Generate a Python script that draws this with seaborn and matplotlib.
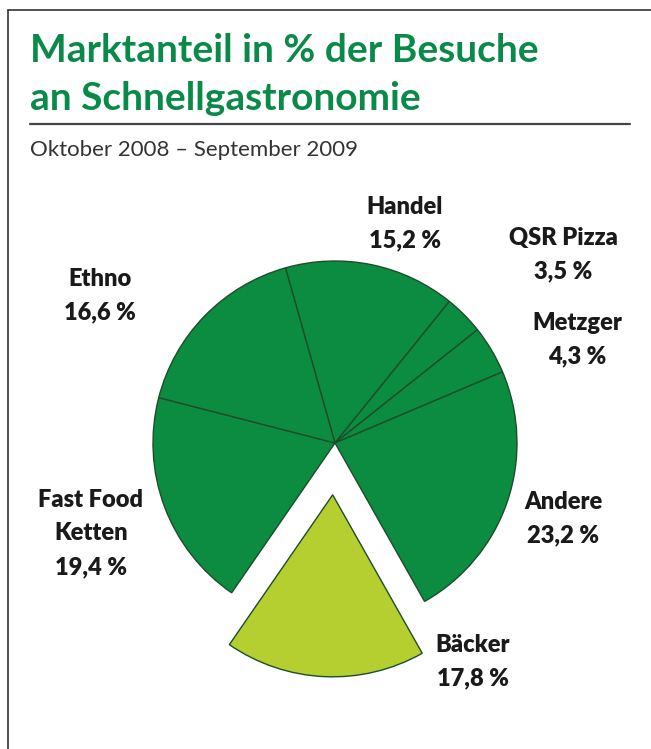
import matplotlib
matplotlib.use("Agg")
import matplotlib.pyplot as plt
import seaborn as sns
from matplotlib.lines import Line2D

# Data (clockwise from the Ethno/Handel boundary)
categories = ["Handel", "QSR Pizza", "Metzger", "Andere", "Bäcker", "Fast Food\nKetten", "Ethno"]
shares = [15.2, 3.5, 4.3, 23.2, 17.8, 19.4, 16.6]
highlight = "Bäcker"

W, H = 651, 749
DARK = "#0b8c40"
LIGHT = "#b4cf2f"
EDGE = "#1d4d2b"
TITLE_GREEN = "#0a8a48"

sns.set_theme(style="white")
plt.rcParams["font.family"] = ["Lato", "DejaVu Sans"]


def fx(px):
    return px / W


def fy(py):
    return 1 - py / H


fig = plt.figure(figsize=(W / 100, H / 100), dpi=100)

# frame lines (top and left) and rule under the title
fig.add_artist(Line2D([fx(8), 1], [fy(10), fy(10)], color="#333333", lw=1.2))
fig.add_artist(Line2D([fx(8), fx(8)], [fy(10), 0], color="#333333", lw=1.2))
fig.add_artist(Line2D([fx(30), fx(630)], [fy(124), fy(124)], color="#444444", lw=1.6))

fig.text(fx(30), fy(62), "Marktanteil in % der Besuche", color=TITLE_GREEN,
         fontsize=28, fontweight="bold", ha="left", va="baseline")
fig.text(fx(30), fy(110), "an Schnellgastronomie", color=TITLE_GREEN,
         fontsize=28, fontweight="bold", ha="left", va="baseline")
fig.text(fx(30), fy(156), "Oktober 2008 – September 2009", color="#333333",
         fontsize=16, ha="left", va="baseline")

# pie: centre at (335, 443) px, radius 182 px
R = 182
cx, cy = 335, 443
half = 1.5 * R
ax = fig.add_axes([fx(cx - half), fy(cy + half), 2 * half / W, 2 * half / H])
colors = [LIGHT if c == highlight else DARK for c in categories]
explode = [0.285 if c == highlight else 0 for c in categories]
ax.pie(shares, colors=colors, explode=explode, startangle=105.8, counterclock=False,
       wedgeprops=dict(edgecolor=EDGE, linewidth=1.0))
ax.set_xlim(-1.5, 1.5)
ax.set_ylim(-1.5, 1.5)
ax.set_axis_off()

# label positions (centre x, centre y of first line) in pixels
label_pos = {
    "Handel": (405, 207),
    "QSR Pizza": (563, 238),
    "Metzger": (577, 323),
    "Andere": (563, 502),
    "Bäcker": (473, 645),
    "Fast Food\nKetten": (91, 500),
    "Ethno": (100, 279),
}
for cat, val in zip(categories, shares):
    x, y = label_pos[cat]
    lines = cat.split("\n") + [f"{val:.1f} %".replace(".", ",")]
    for i, line in enumerate(lines):
        fig.text(fx(x), fy(y + i * 33.5), line, color="#1a1a1a", fontsize=17,
                 fontweight="heavy", ha="center", va="center")

fig.savefig("out.png", dpi=100, facecolor="white")
